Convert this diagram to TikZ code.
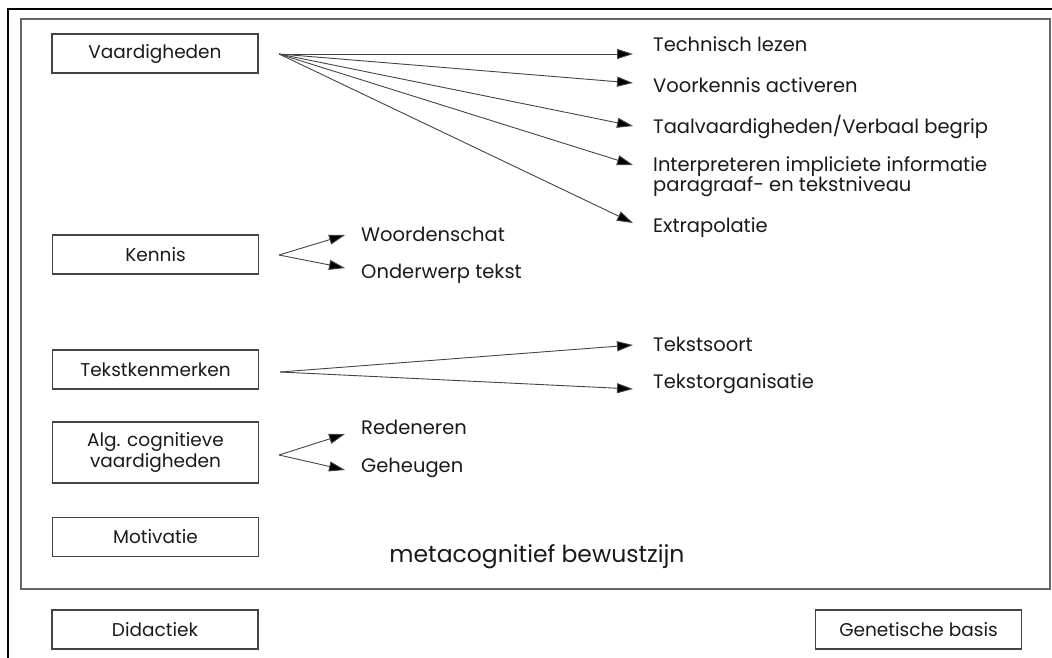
\documentclass[tikz,border=0pt]{standalone}
\usepackage{fontspec}
\setmainfont{Poppins}
\usetikzlibrary{arrows.meta,calc}
\definecolor{txt}{HTML}{1A1A1A}
\definecolor{framegray}{HTML}{666666}
\definecolor{boxgray}{HTML}{444444}
\definecolor{arrgray}{HTML}{444444}
\begin{document}
\begin{tikzpicture}[x=1pt,y=-1pt,
  box/.style={draw=boxgray, line width=1.3pt, minimum width=206pt, minimum height=39pt,
    inner sep=0pt, align=center, text=txt, font=\fontsize{18.5}{21}\selectfont},
  lbl/.style={anchor=west, inner sep=0pt, align=left, text=txt, font=\fontsize{19.5}{20}\selectfont},
  arr/.style={draw=arrgray, line width=0.9pt, -{Triangle[length=16pt,width=10pt,fill=black]}}
]
\useasboundingbox (0,0) rectangle (1052,658);
% frames
\draw[black, line width=1.2pt] (8,658) -- (8,9) -- (1052,9);
\draw[framegray, line width=1.6pt] (21,19) rectangle (1050,589);

% boxes
\node[box] (vaard) at (155,53.5) {Vaardigheden};
\node[box] (kennis) at (155.5,254.5) {Kennis};
\node[box] (tekst) at (155.5,369.5) {Tekstkenmerken};
\node[box, minimum height=61pt] (alg) at (155.5,452.5) {Alg. cognitieve\\vaardigheden};
\node[box] (motiv) at (155.5,537) {Motivatie};
\node[box] (didac) at (155,629.5) {Didactiek};
\node[box] (genet) at (918.5,629.5) {Genetische basis};

% labels
\node[lbl] (tl) at (653,44) {Technisch lezen};
\node[lbl] (vk) at (653,85) {Voorkennis activeren};
\node[lbl] (tv) at (653,127) {Taalvaardigheden/Verbaal begrip};
\node[lbl] (ii) at (653,177) {Interpreteren impliciete informatie\\paragraaf- en tekstniveau};
\node[lbl] (ex) at (653,228) {Extrapolatie};
\node[lbl] (wo) at (361,234) {Woordenschat};
\node[lbl] (ot) at (361,274) {Onderwerp tekst};
\node[lbl] (ts) at (653,344) {Tekstsoort};
\node[lbl] (to) at (653,384) {Tekstorganisatie};
\node[lbl] (re) at (361,427) {Redeneren};
\node[lbl] (ge) at (361,468) {Geheugen};
\node[inner sep=0pt, text=txt, font=\fontsize{23.5}{26}\selectfont] (meta) at (537,557) {metacognitief bewustzijn};

% sources
\coordinate (vsrc) at (279,54);
\coordinate (ksrc) at (279,255);
\coordinate (tsrc) at (280,372);
\coordinate (asrc) at (279,455);
% tips
\coordinate (tlT) at (633,54);
\coordinate (vkT) at (633,83);
\coordinate (tvT) at (633,126);
\coordinate (iiT) at (633,165);
\coordinate (exT) at (633,223);
\coordinate (woT) at (345,235);
\coordinate (otT) at (345,268);
\coordinate (tsT) at (633,345);
\coordinate (toT) at (633,389);
\coordinate (reT) at (345,434);
\coordinate (geT) at (345,470);

\foreach \t in {tlT,vkT,tvT,iiT,exT} \draw[arr] (vsrc) -- (\t);
\foreach \t in {woT,otT} \draw[arr] (ksrc) -- (\t);
\foreach \t in {tsT,toT} \draw[arr] (tsrc) -- (\t);
\foreach \t in {reT,geT} \draw[arr] (asrc) -- (\t);
\end{tikzpicture}
\end{document}
